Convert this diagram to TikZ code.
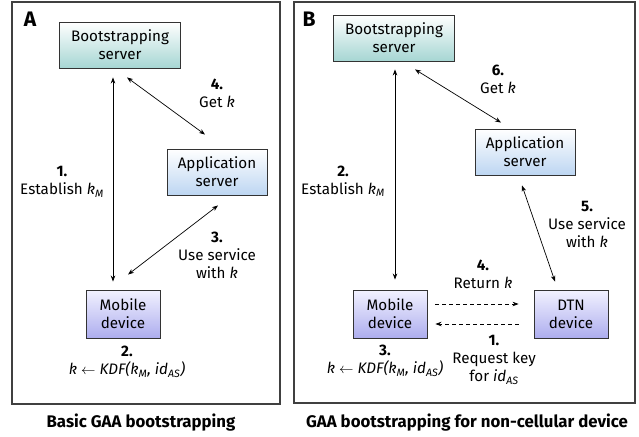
\documentclass[tikz,border=0pt]{standalone}
\usepackage{fontspec}
\setmainfont{Fira Sans}
\usetikzlibrary{arrows.meta,calc}
\definecolor{bsbot}{HTML}{A6D6D3}
\definecolor{apbot}{HTML}{BDD6F2}
\definecolor{mdbot}{HTML}{ADADEE}
\definecolor{mdtop}{HTML}{F2F2FF}
\definecolor{framecol}{HTML}{404040}
\newcommand\nf{\fontsize{15.2}{18}\selectfont}
\newcommand\ik{\textit{k}}
\newcommand\kM{\textit{k\textsubscript{M}}}
\newcommand\idAS{\textit{id\textsubscript{AS}}}
\newcommand\kdf{\textit{k} $\leftarrow$ \textit{KDF(k\textsubscript{M}, id\textsubscript{AS})}}
\tikzset{
  box/.style={draw=black!80, line width=0.9pt, minimum height=46pt, align=center, font=\nf, inner sep=0pt},
  bsbox/.style={box, top color=white, bottom color=bsbot, minimum width=121pt},
  apbox/.style={box, top color=white, bottom color=apbot, minimum width=100pt},
  mdbox/.style={box, top color=mdtop, bottom color=mdbot, minimum width=74pt, minimum height=48pt},
  lbl/.style={align=center, font=\nf, inner sep=0pt},
  captext/.style={font=\fontsize{16.8}{20}\selectfont\bfseries, inner sep=0pt},
  plbl/.style={font=\fontsize{21}{24}\selectfont\bfseries, inner sep=0pt},
  panel/.style={draw=framecol, line width=1.1pt},
  arr/.style={line width=0.7pt, {Stealth[length=6pt,width=4.5pt]}-{Stealth[length=6pt,width=4.5pt]}},
  darr/.style={line width=0.7pt, dash pattern=on 4pt off 3pt, -{Stealth[length=6pt,width=4.5pt]}}
}
\begin{document}
\begin{tikzpicture}[x=1pt,y=-1pt]
\useasboundingbox[fill=white] (0,0) rectangle (639,436);
% panels
\draw[panel] (12,2) rectangle (280,404);
\draw[panel] (294,2) rectangle (635,403);
\node[plbl] (pa) at (30,19) {A};
\node[plbl] (pb) at (309,19) {B};
\node[captext] (capa) at (141,423) {Basic GAA bootstrapping};
\node[captext] (capb) at (467,423) {GAA bootstrapping for non-cellular device};
% panel A
\node[bsbox] (bsA) at (120,45) {Bootstrapping\\server};
\node[apbox] (apA) at (217,172) {Application\\server};
\node[mdbox] (mdA) at (123,314) {Mobile\\device};
\draw[arr] ($(bsA.south)+(-7,9)$) -- ($(mdA.north)+(-10,-8)$);
\draw[arr] ($(bsA.south)+(7,9)$) -- ($(apA.north)+(-12,-14)$);
\draw[arr] ($(apA.south)+(1,10)$) -- ($(mdA.north)+(5,-15)$);
\node[lbl] (l1A) at (62,182) {\textbf{1.}\\Establish \kM};
\node[lbl] (l4A) at (217,93) {\textbf{4.}\\Get \ik};
\node[lbl] (l3A) at (217,255) {\textbf{3.}\\Use service\\with \ik};
\node[lbl] (l2A) at (127,362) {\textbf{2.}\\\kdf};
% panel B
\node[bsbox] (bsB) at (394,38) {Bootstrapping\\server};
\node[apbox] (apB) at (525,152) {Application\\server};
\node[mdbox] (mdB) at (390,314) {Mobile\\device};
\node[mdbox] (dtn) at (571,314) {DTN\\device};
\draw[arr] ($(bsB.south)+(1,8)$) -- ($(mdB.north)+(5,-10)$);
\draw[arr] ($(bsB.south)+(21,8)$) -- ($(apB.north)+(-24,-6)$);
\draw[arr] ($(apB.south)+(-3,10)$) -- ($(dtn.north)+(-16,-8)$);
\draw[darr] ($(mdB.east)+(8,-10)$) -- ($(dtn.west)+(-15,-10)$);
\draw[darr] ($(dtn.west)+(-15,10)$) -- ($(mdB.east)+(8,10)$);
\node[lbl] (l2B) at (343,181) {\textbf{2.}\\Establish \kM};
\node[lbl] (l6B) at (498,79) {\textbf{6.}\\Get \ik};
\node[lbl] (l5B) at (587,224) {\textbf{5.}\\Use service\\with \ik};
\node[lbl] (l4B) at (483,274) {\textbf{4.}\\Return \ik};
\node[lbl] (l1B) at (494,360) {\textbf{1.}\\Request key\\for \idAS};
\node[lbl] (l3B) at (385,361) {\textbf{3.}\\\kdf};
\end{tikzpicture}
\end{document}
